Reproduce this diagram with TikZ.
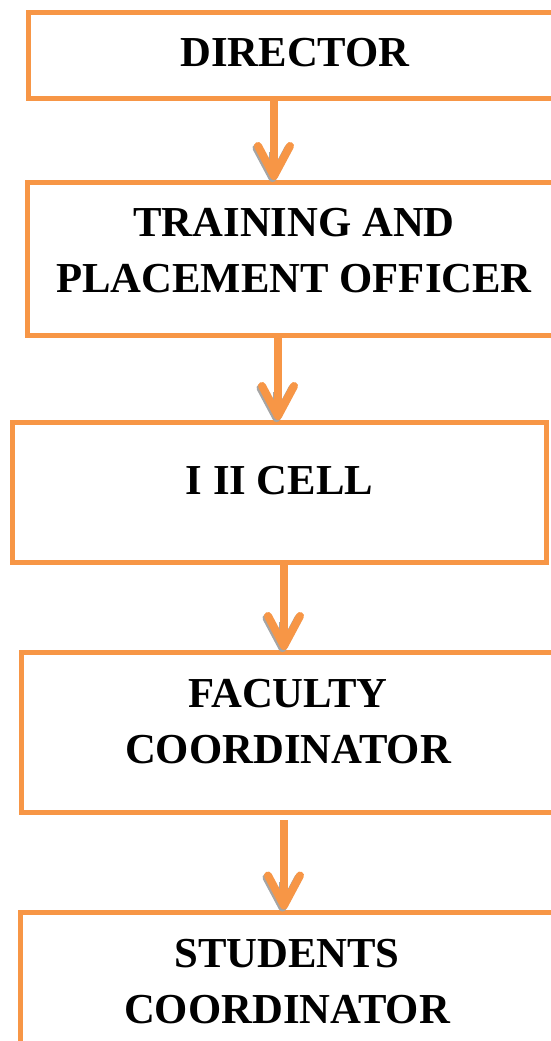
\documentclass[tikz,border=0pt]{standalone}
\usepackage{fontspec}
\setmainfont{Liberation Serif}
\usetikzlibrary{arrows.meta}
\definecolor{chartorange}{RGB}{247,150,70}
\definecolor{tipshade}{RGB}{165,165,165}

\begin{document}
\begin{tikzpicture}[x=1pt, y=-1pt, font=\fontsize{42.7}{56}\selectfont\bfseries,
  box/.style={draw=chartorange, line width=5pt, fill=white, minimum width=534pt,
              align=center, inner sep=0pt},
  flow/.style={draw=chartorange, line width=8pt,
               -{Straight Barb[length=30pt, width=32pt, round]}},
  flowshade/.style={flow, draw=tipshade,
                    transform canvas={shift={(-1.5pt,-2pt)}}}]
\useasboundingbox (0,0) rectangle (551,1041);
% reporting chain, top to bottom
\node[box, minimum height=85.5pt, text depth=7.5pt] (dir) at (295,55.75) {DIRECTOR};
\node[box, minimum height=153pt, text depth=18pt] (tpo) at (294,259) {TRAINING AND\\PLACEMENT OFFICER};
\node[box, minimum height=140pt, text depth=25pt] (cell) at (279.5,492.5) {I II CELL};
\node[box, minimum height=159.5pt, text depth=22pt] (fac) at (288,732.25) {FACULTY\\COORDINATOR};
\node[box, minimum height=160pt, text depth=22pt] (stu) at (287,992) {STUDENTS\\COORDINATOR};
% arrows between the boxes, grey shade under each head first
\foreach \a/\da/\b/\db/\gap/\cut in {dir/-21/tpo/-20/0/49, tpo/-16/cell/-1.5/0/52,
                                    cell/4.5/fac/-4/0/55, fac/-4/stu/-3/5.5/65}{
  \draw[flowshade, shorten <=\cut pt] ([xshift=\da pt]\a.south) -- ([xshift=\db pt]\b.north);
  \draw[flow, shorten <=\gap pt] ([xshift=\da pt]\a.south) -- ([xshift=\db pt]\b.north);
}
\end{tikzpicture}
\end{document}
